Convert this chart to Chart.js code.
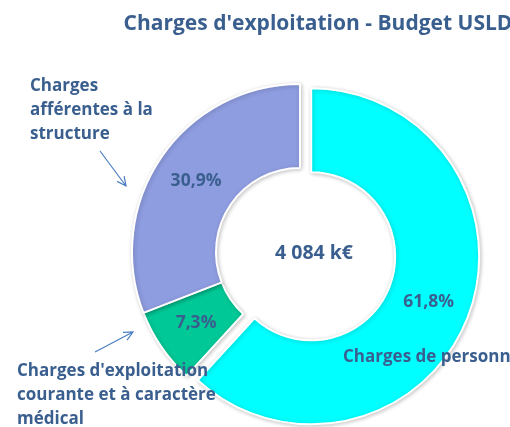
<!DOCTYPE html>
<html>
<head>
<meta charset="utf-8">
<script src="https://cdn.jsdelivr.net/npm/chart.js@4"></script>
<style>
  html, body { margin: 0; padding: 0; background: #fff; }
  #wrap { width: 510px; height: 427px; position: relative; overflow: hidden; }
</style>
</head>
<body>
<div id="wrap"><canvas id="budgetChart" width="510" height="427"></canvas></div>
<script>
// ---- data ----
const categories = [
  'Charges de personnel',
  "Charges d'exploitation courante et à caractère médical",
  'Charges afférentes à la structure'
];
const shares = [61.8, 7.3, 30.9];
const shareLabels = ['61,8%', '7,3%', '30,9%'];
const sliceColors = ['#00FFFF', '#00C896', '#8E9CE0'];
const totalLabel = '4 084 k€';
const chartTitle = "Charges d'exploitation - Budget USLD";

const EXPLODE = 12;          // pull-out of the first slice, px
const TEXT_COLOR = '#3A5F8F';
const ARROW_COLOR = '#4A7EC0';
const FONT = '"Open Sans", "Noto Sans", sans-serif';

function drawArrow(ctx, x1, y1, x2, y2) {
  const a = Math.atan2(y2 - y1, x2 - x1);
  ctx.save();
  ctx.strokeStyle = ARROW_COLOR;
  ctx.lineWidth = 1.2;
  ctx.beginPath();
  ctx.moveTo(x1, y1);
  ctx.lineTo(x2, y2);
  ctx.moveTo(x2 - 10 * Math.cos(a - 0.45), y2 - 10 * Math.sin(a - 0.45));
  ctx.lineTo(x2, y2);
  ctx.lineTo(x2 - 10 * Math.cos(a + 0.45), y2 - 10 * Math.sin(a + 0.45));
  ctx.stroke();
  ctx.restore();
}

// Chart.js grows the radius of an offset arc; instead just slide slice 0 out
const explodePlugin = {
  id: 'explode',
  afterUpdate(chart) {
    const arc = chart.getDatasetMeta(0).data[0];
    if (!arc || arc._exploded) return;
    const orig = arc.draw.bind(arc);
    arc.draw = function (ctx, area) {
      const mid = (this.startAngle + this.endAngle) / 2;
      ctx.save();
      ctx.translate(EXPLODE * Math.cos(mid), EXPLODE * Math.sin(mid));
      orig(ctx, area);
      ctx.restore();
    };
    arc._exploded = true;
  }
};

// Soft shadow under the slices
const shadowPlugin = {
  id: 'sliceShadow',
  beforeDatasetsDraw(chart) {
    const ctx = chart.ctx;
    ctx.save();
    ctx.shadowColor = 'rgba(0,0,0,0.22)';
    ctx.shadowBlur = 4;
    ctx.shadowOffsetX = 1;
    ctx.shadowOffsetY = 1;
  },
  afterDatasetsDraw(chart) {
    chart.ctx.restore();
  }
};

const labelPlugin = {
  id: 'annotations',
  afterDraw(chart) {
    const ctx = chart.ctx;
    const meta = chart.getDatasetMeta(0);
    ctx.save();
    ctx.fillStyle = TEXT_COLOR;
    ctx.textBaseline = 'middle';

    // percentages at slice centroids
    ctx.textAlign = 'center';
    ctx.font = 'bold 17.5px ' + FONT;
    meta.data.forEach((arc, i) => {
      const p = arc.tooltipPosition();
      const mid = (arc.startAngle + arc.endAngle) / 2;
      const off = i === 0 ? EXPLODE : 0;
      ctx.fillText(shareLabels[i], p.x + off * Math.cos(mid), p.y + off * Math.sin(mid));
    });

    ctx.font = 'bold 19.5px ' + FONT;
    ctx.fillText(totalLabel, 314, 253);

    ctx.font = 'bold 21px ' + FONT;
    ctx.fillText(chartTitle, 318, 24);

    // category callouts
    ctx.textAlign = 'left';
    ctx.font = 'bold 17px ' + FONT;
    ['Charges', 'afférentes à la', 'structure'].forEach((t, i) => ctx.fillText(t, 30, 86 + i * 24));
    ["Charges d'exploitation", 'courante et à caractère', 'médical'].forEach((t, i) => ctx.fillText(t, 17, 371 + i * 24));
    ctx.fillText('Charges de personnel', 343, 357);

    drawArrow(ctx, 100, 151, 126, 186);
    drawArrow(ctx, 95, 352, 133, 332);
    ctx.restore();
  }
};

new Chart(document.getElementById('budgetChart'), {
  type: 'doughnut',
  data: {
    labels: categories,
    datasets: [{
      data: shares,
      backgroundColor: sliceColors,
      borderColor: '#ffffff',
      borderWidth: 2,
      hoverOffset: 0,
      clip: false
    }]
  },
  options: {
    responsive: false,
    animation: false,
    radius: 168,
    cutout: '50%',
    layout: { padding: { left: 90, right: 0, top: 77, bottom: 0 } },
    plugins: {
      legend: { display: false },
      title: { display: false },
      tooltip: { enabled: false }
    }
  },
  plugins: [explodePlugin, shadowPlugin, labelPlugin]
});
</script>
</body>
</html>
